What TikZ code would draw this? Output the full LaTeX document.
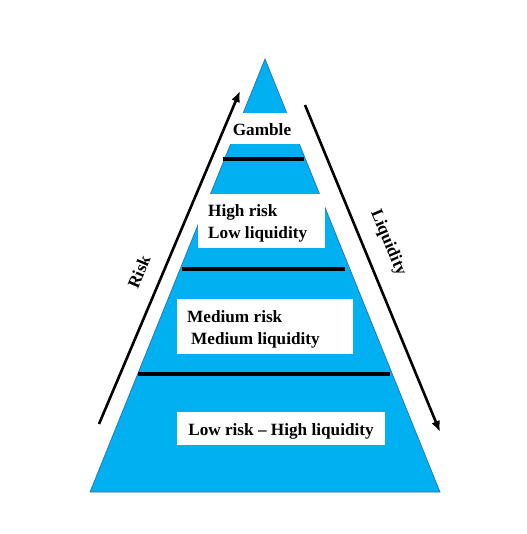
\documentclass[tikz,border=0pt]{standalone}
\usepackage{fontspec}
\setmainfont{Liberation Serif}
\usetikzlibrary{arrows.meta}
\definecolor{pyrfill}{HTML}{00B0F0}
\definecolor{pyredge}{HTML}{2F6FB0}
\tikzset{
  box/.style={fill=white, draw=none, inner sep=0pt, anchor=north west},
  lbl/.style={font=\fontsize{17.2}{20}\selectfont\bfseries, inner sep=0pt},
  sep/.style={line width=4pt},
  arr/.style={line width=2.6pt, -{Latex[length=11pt,width=9pt]}}
}
\begin{document}
\begin{tikzpicture}[x=1pt,y=-1pt]
\useasboundingbox (0,0) rectangle (526,534);
% pyramid
\coordinate (apex) at (265,59);
\coordinate (bl) at (90,492);
\coordinate (br) at (440,492);
\draw[fill=pyrfill, draw=pyredge, line width=0.7pt] (apex) -- (br) -- (bl) -- cycle;
% white boxes
\node[box, minimum width=78pt, minimum height=31pt] (gbox) at (223,113) {};
\node[box, minimum width=127pt, minimum height=54pt] (hbox) at (198,194) {};
\node[box, minimum width=176pt, minimum height=55pt] (mbox) at (177,299) {};
\node[box, minimum width=208pt, minimum height=33pt] (lbox) at (177,412) {};
% separator lines
\coordinate (s1a) at (223,159); \coordinate (s1b) at (304,159);
\coordinate (s2a) at (182,269); \coordinate (s2b) at (345,269);
\coordinate (s3a) at (138,374); \coordinate (s3b) at (390,374);
\draw[sep] (s1a) -- (s1b);
\draw[sep] (s2a) -- (s2b);
\draw[sep] (s3a) -- (s3b);
% texts
\node[lbl, anchor=base] (gt) at (262,136) {Gamble};
\node[lbl, anchor=base west] (ht1) at (208,217) {High risk};
\node[lbl, anchor=base west] (ht2) at (208,238) {Low liquidity};
\node[lbl, anchor=base west] (mt1) at (187,322) {Medium risk};
\node[lbl, anchor=base west] (mt2) at (191,344) {Medium liquidity};
\node[lbl, anchor=base] (lt) at (281,435) {Low risk -- High liquidity};
% arrows
\coordinate (rs) at (99,424); \coordinate (re) at (240,91);
\coordinate (qs) at (305,105); \coordinate (qe) at (440,432);
\draw[arr] (rs) -- (re);
\draw[arr] (qs) -- (qe);
\node[lbl, rotate=67] (risk) at (139,272) {Risk};
\node[lbl, rotate=-67] (liq) at (388,243) {Liquidity};
\end{tikzpicture}
\end{document}
